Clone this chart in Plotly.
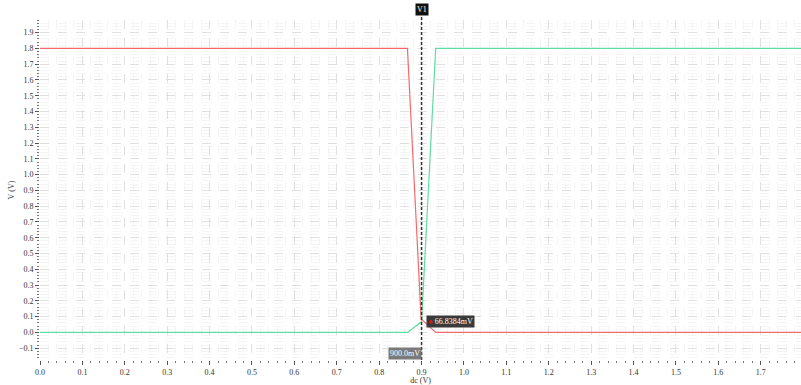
import plotly.graph_objects as go

# Data (sweep of dc input, V)
dc_red = [0.0, 0.8667, 0.8990, 0.9333, 1.8]
v_red = [1.8, 1.8, 0.085, 0.0, 0.0]
dc_green = [0.0, 0.8667, 0.9, 0.9333, 1.8]
v_green = [0.0, 0.0, 0.0668, 1.8, 1.8]

cursor_x = 0.9
cursor_label = "V1"
cursor_x_label = "900.0mV"
marker_y = 0.0668
marker_label = "66.8384mV"

y_ticks = [round(-0.1 + 0.1 * i, 1) for i in range(21)]
x_ticks = [round(0.1 * i, 1) for i in range(19)]

fig = go.Figure()
fig.add_trace(go.Scatter(x=dc_red, y=v_red, mode="lines",
                         line=dict(color="#f46a6a", width=1.2), hoverinfo="skip"))
fig.add_trace(go.Scatter(x=dc_green, y=v_green, mode="lines",
                         line=dict(color="#5ddea0", width=1.2), hoverinfo="skip"))

# cursor line
fig.add_shape(type="line", xref="x", yref="paper", x0=cursor_x, x1=cursor_x,
              y0=0, y1=1.03, line=dict(color="#333333", width=1.5, dash="3px,2px"))

fig.add_annotation(x=cursor_x, y=1.012, xref="x", yref="paper", text=cursor_label,
                   showarrow=False, yanchor="bottom", bgcolor="#111111",
                   font=dict(color="white", size=8, family="Liberation Serif"),
                   borderpad=1)
fig.add_annotation(x=cursor_x, y=0, xref="x", yref="paper", text=cursor_x_label,
                   showarrow=False, xanchor="right", yanchor="bottom", bgcolor="#7a7a7a",
                   font=dict(color="white", size=8, family="Liberation Serif"),
                   borderpad=1)
fig.add_annotation(x=cursor_x, y=marker_y, xref="x", yref="y",
                   text="<span style='color:#e01010'>●</span> " + marker_label,
                   showarrow=False, xanchor="left", yanchor="middle", xshift=4,
                   bgcolor="#3a3a3a",
                   font=dict(color="white", size=8, family="Liberation Serif"),
                   borderpad=1)

axis_common = dict(
    showline=False, zeroline=False,
    ticks="outside", ticklen=4, tickcolor="#555555", tickwidth=1,
    tickfont=dict(size=8, color="#333333", family="Liberation Serif"),
    showgrid=True, gridcolor="#e0e0e0", griddash="dash", gridwidth=1,
    minor=dict(ticks="outside", ticklen=2, tickcolor="#777777", dtick=0.02,
               showgrid=True, gridcolor="#f5f5f5", griddash="dash", gridwidth=1),
)

fig.update_xaxes(range=[0, 1.795], tickvals=x_ticks, tickformat=".1f",
                 title=dict(text="dc (V)", font=dict(size=8, color="#333333",
                            family="Liberation Serif"), standoff=4),
                 **axis_common)
fig.update_yaxes(range=[-0.175, 1.98], tickvals=y_ticks, tickformat=".1f",
                 title=dict(text="V (V)", font=dict(size=8, color="#333333",
                            family="Liberation Serif"), standoff=3),
                 **axis_common)

fig.update_layout(width=801, height=385, showlegend=False,
                  margin=dict(l=40, r=0, t=20, b=25),
                  plot_bgcolor="white", paper_bgcolor="white",
                  font=dict(family="Liberation Serif", size=8))

fig.write_html("out.html", config={"displayModeBar": False},
               post_script="document.body.style.margin='0';document.body.style.overflow='hidden';")
